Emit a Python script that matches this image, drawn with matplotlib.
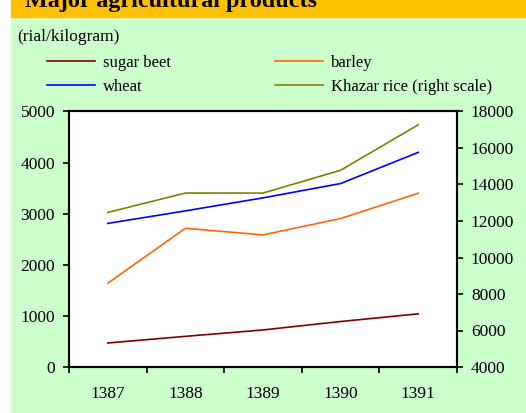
import numpy as np
import matplotlib.pyplot as plt
from matplotlib.patches import Rectangle

# values (rial/kilogram)
years = ['1387', '1388', '1389', '1390', '1391']
sugar_beet = [470, 600, 725, 890, 1040]
barley = [1640, 2715, 2585, 2905, 3400]
wheat = [2810, 3055, 3310, 3590, 4200]
khazar_rice = [12470, 13530, 13530, 14780, 17270]

W, H = 526, 413
plt.rcParams['font.family'] = ['Liberation Serif', 'DejaVu Serif']

fig = plt.figure(figsize=(W / 100, H / 100), dpi=100, facecolor='white')

# background panels: green body and orange title strip
fig.patches.append(Rectangle((11 / W, 0), 1 - 11 / W, 1 - 17 / H,
                             transform=fig.transFigure, color='#CCFFCC', zorder=-5))
fig.patches.append(Rectangle((11 / W, 1 - 17 / H), 1 - 11 / W, 17 / H,
                             transform=fig.transFigure, color='#FFC000', zorder=-5))
# title, mostly cut off by the top edge like the reference
fig.text(25 / W, 1 - 7 / H, 'Major agricultural products', fontsize=17.4,
         fontweight='bold', va='baseline', ha='left')

fig.text(17 / W, 1 - 37 / H, '(rial/kilogram)', fontsize=12.5, va='center', ha='left')

ax = fig.add_axes([69 / W, 1 - 367 / H, (457 - 69) / W, (367 - 111.5) / H])
ax.set_facecolor('white')
x = np.arange(len(years)) + 0.5

l1, = ax.plot(x, sugar_beet, color='#800000', lw=1.2, label='sugar beet')
l2, = ax.plot(x, wheat, color='#0000FF', lw=1.2, label='wheat')
l3, = ax.plot(x, barley, color='#FF6600', lw=1.2, label='barley')

ax2 = ax.twinx()
l4, = ax2.plot(x, khazar_rice, color='#808000', lw=1.2, label='Khazar rice (right scale)')

ax.set_xlim(0, 5)
ax.set_ylim(0, 5000)
ax.set_yticks(range(0, 5001, 1000))
ax2.set_ylim(4000, 18000)
ax2.set_yticks(range(4000, 18001, 2000))

ax.set_xticks(range(0, 6))
ax.set_xticklabels([])
ax.set_xticks(x, minor=True)
ax.set_xticklabels(years, minor=True)
ax.tick_params(axis='x', which='major', direction='out', length=4.5, width=1.2)
ax.tick_params(axis='x', which='minor', length=0, pad=14, labelsize=12.5)
ax.tick_params(axis='y', direction='out', length=4, width=1.2, pad=6, labelsize=12.5)
ax2.tick_params(axis='y', direction='out', length=4, width=1.2, pad=6, labelsize=12.5)

for a in (ax, ax2):
    for s in a.spines.values():
        s.set_linewidth(1.5)

fig.legend(handles=[l1, l2, l3, l4], loc='upper left',
           bbox_to_anchor=(47 / W, 1 - 55 / H), ncol=2, frameon=False,
           fontsize=12, handlelength=2.9, handletextpad=0.48,
           columnspacing=6.2, labelspacing=0.5, borderaxespad=0,
           borderpad=0)

fig.savefig('out.png', dpi=100, facecolor=fig.get_facecolor())
